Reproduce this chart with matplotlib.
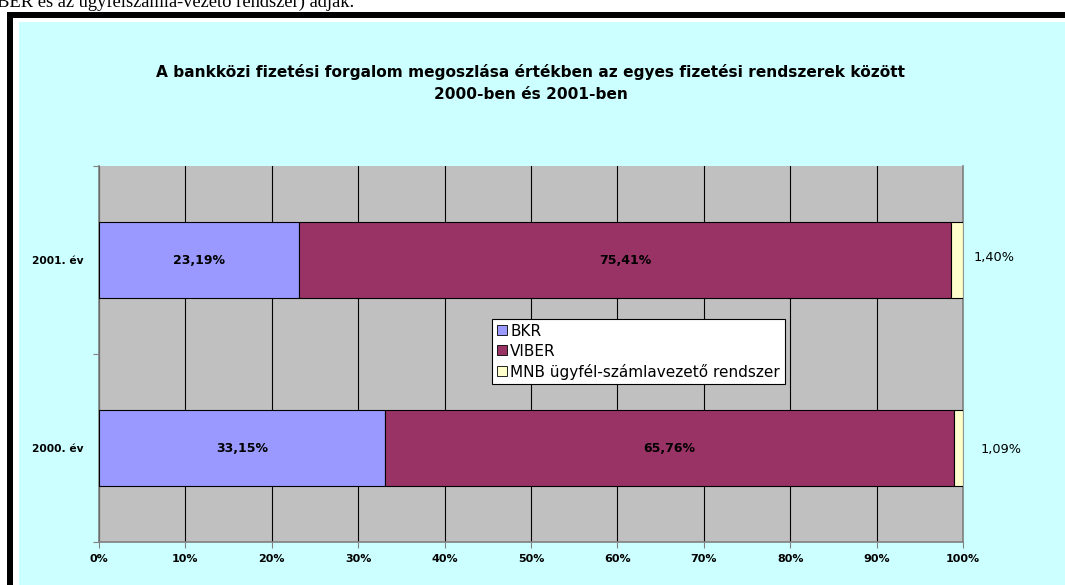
import matplotlib
matplotlib.use("Agg")
import matplotlib.pyplot as plt
from matplotlib.patches import Rectangle

categories = ["2000. év", "2001. év"]
series_names = ["BKR", "VIBER", "MNB ügyfél-számlavezető rendszer"]
bkr = [33.15, 23.19]
viber = [65.76, 75.41]
mnb = [1.09, 1.40]
bkr_labels = ["33,15%", "23,19%"]
viber_labels = ["65,76%", "75,41%"]
mnb_labels = ["1,09%", "1,40%"]
xtick_vals = [0, 10, 20, 30, 40, 50, 60, 70, 80, 90, 100]
xtick_labels = ["0%", "10%", "20%", "30%", "40%", "50%", "60%", "70%", "80%", "90%", "100%"]
title = "A bankközi fizetési forgalom megoszlása értékben az egyes fizetési rendszerek között\n2000-ben és 2001-ben"
top_text = "BER és az ügyfélszámla-vezető rendszer) adják."

FONT = "DejaVu Sans"
W, H = 1065, 585
fig = plt.figure(figsize=(W / 100, H / 100), dpi=100)
fig.patch.set_facecolor("white")

def px(x0, y0, x1, y1, color):
    fig.patches.append(Rectangle((x0 / W, 1 - y1 / H), (x1 - x0) / W, (y1 - y0) / H,
                                 transform=fig.transFigure, facecolor=color,
                                 edgecolor="none", zorder=-10))

px(7, 12, W + 10, H + 10, "black")
px(13, 18, W + 10, H + 10, "white")
px(19, 22, W + 10, H + 10, "#CCFFFF")

fig.text(-3 / W, 1 - 6.5 / H, top_text, family="Liberation Serif", fontsize=13.3,
         ha="left", va="baseline", color="black")

fig.text(531 / W, 1 - 64 / H, title, family=FONT, fontweight="bold",
         fontsize=11.1, ha="center", va="top", linespacing=1.6)

ax = fig.add_axes([99 / W, 43 / H, 864 / W, 376 / H])
ax.set_facecolor("#C0C0C0")
ypos = [0, 1]
h = 0.4
colors = ["#9999FF", "#993366", "#FFFFCC"]
ax.barh(ypos, bkr, height=h, color=colors[0], edgecolor="black", linewidth=0.8,
        label=series_names[0], zorder=3)
ax.barh(ypos, viber, left=bkr, height=h, color=colors[1], edgecolor="black",
        linewidth=0.8, label=series_names[1], zorder=3)
left3 = [a + b for a, b in zip(bkr, viber)]
ax.barh(ypos, mnb, left=left3, height=h, color=colors[2], edgecolor="black",
        linewidth=0.8, label=series_names[2], zorder=3)

for i in range(len(ypos)):
    ax.text(bkr[i] / 2, ypos[i], bkr_labels[i], ha="center", va="center",
            fontsize=9, fontweight="bold", family=FONT, zorder=4)
    ax.text(bkr[i] + viber[i] / 2, ypos[i], viber_labels[i], ha="center", va="center",
            fontsize=9, fontweight="bold", family=FONT, zorder=4)

x_offsets = [18, 11]
y_offsets = [-2, 3]
for i in range(len(ypos)):
    ax.annotate(mnb_labels[i], xy=(100, ypos[i]), xytext=(x_offsets[i], y_offsets[i]),
                textcoords="offset pixels", ha="left", va="center", fontsize=9.3,
                family=FONT, annotation_clip=False)

ax.set_xlim(0, 100)
ax.set_ylim(-0.5, 1.5)
ax.set_xticks(xtick_vals)
ax.set_xticklabels(xtick_labels, fontsize=8, fontweight="bold", family=FONT)
ax.xaxis.grid(True, color="black", linewidth=0.8, zorder=1)
ax.set_axisbelow(True)
ax.tick_params(axis="x", length=4, width=0.8, color="#808080", pad=5)

ax.set_yticks([-0.5, 0.5, 1.5])
ax.set_yticklabels([])
ax.set_yticks(ypos, minor=True)
ax.set_yticklabels(categories, minor=True, fontsize=7.7, fontweight="bold", family=FONT)
ax.tick_params(axis="y", which="major", length=4, width=0.8, color="#808080")
ax.tick_params(axis="y", which="minor", length=0, pad=11)

for s in ["left", "bottom", "right"]:
    ax.spines[s].set_color("#808080")
    ax.spines[s].set_linewidth(1.2)
ax.spines["top"].set_visible(False)

leg = ax.legend(loc="upper left", bbox_to_anchor=((492 - 99) / 864, (542 - 319) / 376),
                borderaxespad=0, frameon=True, fancybox=False, edgecolor="black",
                facecolor="white", framealpha=1, prop={"family": FONT, "size": 11},
                handlelength=0.65, handleheight=0.65, handletextpad=0.25, labelspacing=0.33,
                borderpad=0.3)
leg.get_frame().set_linewidth(0.8)
for p in leg.get_patches():
    p.set_edgecolor("black")
    p.set_linewidth(0.6)

fig.savefig("out.png", dpi=100)
